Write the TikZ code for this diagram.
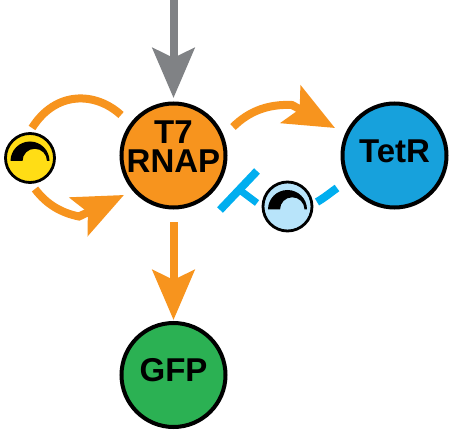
\documentclass[tikz,border=0pt]{standalone}
\usepackage{fontspec}
\setmainfont{Liberation Sans}
\usetikzlibrary{arrows.meta}
\definecolor{orng}{HTML}{F7941E}
\definecolor{gry}{HTML}{808285}
\definecolor{cyn}{HTML}{00AEEF}
\definecolor{tetblue}{HTML}{17A1DC}
\definecolor{grn}{HTML}{2BB153}
\definecolor{yel}{HTML}{FFDD15}
\definecolor{ltblue}{HTML}{B8E4FA}
\newcommand{\lbl}[2]{\raisebox{#1}[0pt][0pt]{#2}}
\tikzset{
  bigcirc/.style={circle,draw=black,line width=4pt,minimum size=104pt,inner sep=-6pt,font=\fontsize{33}{28.7}\selectfont\bfseries,align=center},
  smallcirc/.style={circle,draw=black,line width=2.8pt,minimum size=49pt,inner sep=0pt},
  conn/.style={line width=8pt,draw=#1,-{Stealth[length=50pt,width=42pt,inset=10pt,fill=#1]}},
  plain/.style={line width=8pt,draw=#1},
  gauge/.pic={\fill[black] (-19.5,3) arc[start angle=180,end angle=360,radius=19.5] -- (17,3) arc[start angle=360,end angle=180,radius=12.25] -- cycle;},
}
\begin{document}
\begin{tikzpicture}[x=1pt,y=-1pt]
\useasboundingbox (0,0) rectangle (449,430);
\node[bigcirc,fill=orng] (T7) at (173.5,155.5) {\lbl{-2.85pt}{T7}\\\lbl{-2.85pt}{RNAP}};
\node[bigcirc,fill=tetblue] (TetR) at (394.5,155.5) {\lbl{-7.2pt}{TetR}};
\node[bigcirc,fill=grn] (GFP) at (173.5,375) {\lbl{-6.7pt}{GFP}};
\node[smallcirc,fill=yel] (Y) at (30,158) {};
\node[smallcirc,fill=ltblue] (B) at (287.5,206.5) {};
\pic at (Y.center) {gauge};
\pic at (B.center) {gauge};
\coordinate (top) at (173.5,0);
\coordinate (gfpS) at (173.5,222);
\coordinate (gfpT) at (173.5,320);
\coordinate (t7T) at (173.5,98);
\coordinate (a1) at (32,128);
\coordinate (a2) at (121,115);
\coordinate (b1) at (35,189);
\coordinate (b3) at (79,216.5);
\coordinate (b2) at (124,195);
\coordinate (c1) at (233,127);
\coordinate (c3) at (292,105);
\coordinate (c2) at (335,128);
\coordinate (d1) at (337,188);
\coordinate (d2) at (317,202);
\coordinate (e1) at (257,203);
\coordinate (e2) at (220,210);
\coordinate (e3) at (257,171);
\coordinate (e4) at (241,191);
\draw[conn=gry] (top) -- (t7T);
\draw[conn=orng] (gfpS) -- (gfpT);
\draw[plain=orng] (a1) .. controls (56,90) and (96,92) .. (a2);
\draw[conn=orng] (b1) .. controls (47,205) and (62,213) .. (b3) -- (b2);
\draw[conn=orng] (c1) .. controls (250,110) and (270,104) .. (c3) -- (c2);
\draw[plain=cyn] (d1) .. controls (330,193) and (324,198) .. (d2);
\draw[plain=cyn] (e2) -- (e3);
\draw[plain=cyn,line width=7pt] (e4) -- (e1);
\end{tikzpicture}
\end{document}
